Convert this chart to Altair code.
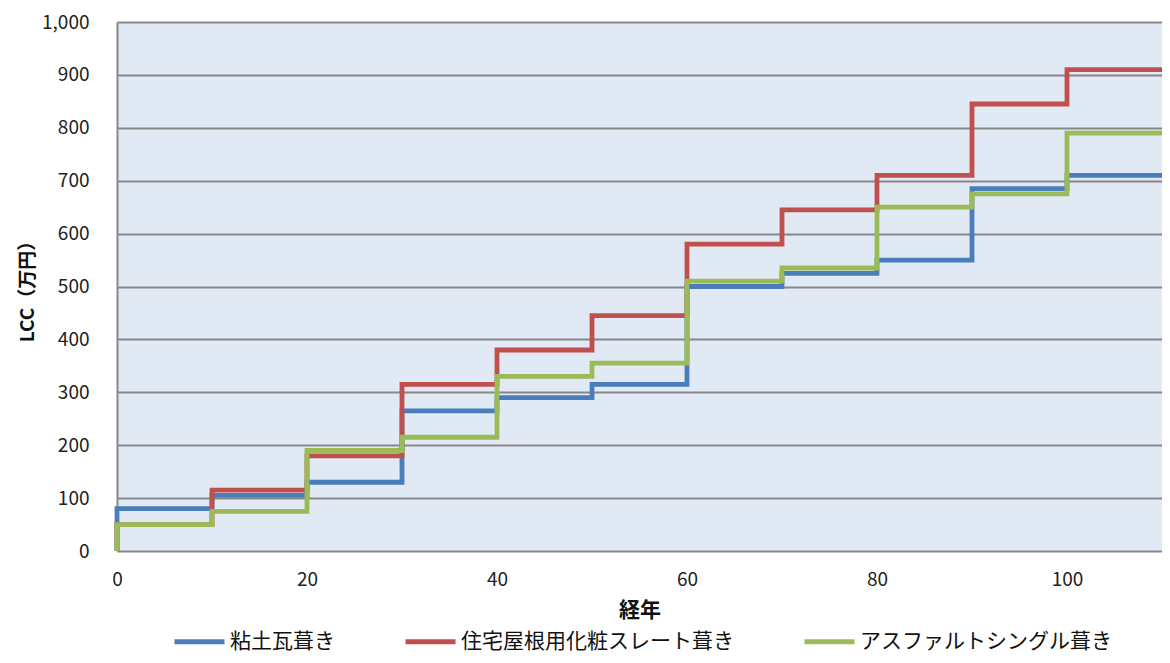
import altair as alt
import pandas as pd

years = [0, 0, 10, 20, 30, 40, 50, 60, 70, 80, 90, 100, 110]
series_names = ["粘土瓦葺き", "住宅屋根用化粧スレート葺き", "アスファルトシングル葺き"]
clay = [0, 80, 105, 130, 265, 290, 315, 500, 525, 550, 685, 710, 710]
slate = [0, 50, 115, 180, 315, 380, 445, 580, 645, 710, 845, 910, 910]
asphalt = [0, 50, 75, 190, 215, 330, 355, 510, 535, 650, 675, 790, 790]
colors = ["#4A7EBB", "#C0504D", "#9BBB59"]

rows = []
for name, vals in zip(series_names, [clay, slate, asphalt]):
    for i, (x, y) in enumerate(zip(years, vals)):
        rows.append({"year": x, "lcc": y, "series": name, "idx": i})
df = pd.DataFrame(rows)

FONT = "Noto Sans CJK JP"

chart = alt.Chart(df).mark_line(interpolate="step-after", strokeWidth=4.8, strokeCap="butt", strokeJoin="miter").encode(
    x=alt.X("year:Q", scale=alt.Scale(domain=[0, 110], nice=False, zero=False),
            axis=alt.Axis(title="経年", values=[0, 20, 40, 60, 80, 100], grid=False, ticks=False,
                          domain=False, labelFontSize=19, labelPadding=19, labelFlush=False,
                          labelColor="#222222",
                          titleFontSize=21, titleFontWeight="bold", titlePadding=10, titleColor="#111111")),
    y=alt.Y("lcc:Q", scale=alt.Scale(domain=[0, 1000], nice=False),
            axis=alt.Axis(title="LCC（万円）", values=list(range(0, 1001, 100)), format=",d",
                          grid=True, gridColor="#888888", gridWidth=2, ticks=False,
                          domain=True, domainColor="#888888", domainWidth=2,
                          labelFontSize=19, labelPadding=28, labelColor="#222222",
                          titleFontSize=19, titleFontWeight="bold", titlePadding=4, titleColor="#111111")),
    color=alt.Color("series:N", scale=alt.Scale(domain=series_names, range=colors),
                    legend=alt.Legend(title=None, orient="none", direction="horizontal",
                                      legendX=55, legendY=592, columns=3, columnPadding=60,
                                      symbolType="stroke", symbolSize=2500, symbolStrokeWidth=5,
                                      labelFontSize=21, labelOffset=3, labelColor="#111111",
                                      labelLimit=400)),
    order=alt.Order("idx:Q"),
    detail="series:N",
).properties(
    width=1045, height=529,
    padding={"left": 109, "top": 14, "right": 0, "bottom": 104},
    autosize=alt.AutoSizeParams(type="none"),
).configure(
    font=FONT
).configure_view(
    fill="#E1E9F5", stroke=None
)

chart.save("out.html", embed_options={"renderer": "svg", "actions": False})
